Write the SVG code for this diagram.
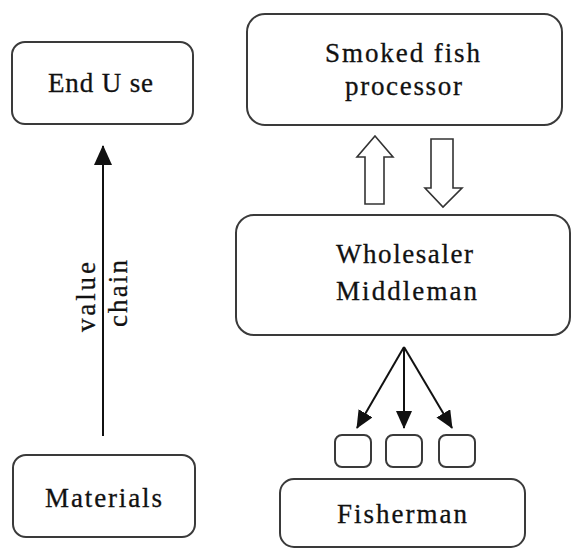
<svg xmlns="http://www.w3.org/2000/svg" width="571" height="550" viewBox="0 0 571 550">
<defs>
<style>
.box{fill:#fff;stroke:#3a3a3a;stroke-width:2}
.t{font-family:"Liberation Serif","DejaVu Serif",serif;font-size:27px;fill:#111;stroke:#111;stroke-width:0.3}
.ln{stroke:#111;stroke-width:2;fill:none}
.hollow{fill:#fff;stroke:#333;stroke-width:1.6}
</style>
<marker id="ah2" markerWidth="20" markerHeight="18" refX="19" refY="9" orient="auto" markerUnits="userSpaceOnUse" viewBox="0 0 20 18">
<path d="M0,0 L20,9 L0,18 z" fill="#111"/>
</marker>
<marker id="ah3" markerWidth="18" markerHeight="16" refX="17" refY="8" orient="auto" markerUnits="userSpaceOnUse" viewBox="0 0 18 16">
<path d="M0,0 L18,8 L0,16 z" fill="#111"/>
</marker>
</defs>
<rect width="571" height="550" fill="#fff"/>
<g id="end-use">
<rect class="box" x="12" y="42" width="181" height="82" rx="13"/>
<text class="t" x="48" y="92" textLength="105" lengthAdjust="spacing">End U se</text>
</g>
<g id="materials">
<rect class="box" x="13" y="455" width="182" height="82" rx="13"/>
<text class="t" x="45" y="507" textLength="117" lengthAdjust="spacing">Materials</text>
</g>
<g id="smoked-fish-processor">
<rect class="box" x="247" y="14" width="315" height="111" rx="18"/>
<text class="t" x="325" y="62" textLength="155" lengthAdjust="spacing">Smoked fish</text>
<text class="t" x="345" y="95" textLength="117" lengthAdjust="spacing">processor</text>
</g>
<g id="wholesaler-middleman">
<rect class="box" x="236" y="215" width="334" height="120" rx="18"/>
<text class="t" x="336" y="263" textLength="137" lengthAdjust="spacing">Wholesaler</text>
<text class="t" x="336" y="300" textLength="141" lengthAdjust="spacing">Middleman</text>
</g>
<g id="small-boxes">
<rect class="box" x="335" y="435" width="36" height="32" rx="7"/>
<rect class="box" x="386" y="435" width="36" height="32" rx="7"/>
<rect class="box" x="439" y="435" width="36" height="32" rx="7"/>
</g>
<g id="fisherman">
<rect class="box" x="280" y="479" width="245" height="68" rx="14"/>
<text class="t" x="337" y="523" textLength="130" lengthAdjust="spacing">Fisherman</text>
</g>
<g id="connectors">
<line class="ln" x1="103" y1="436" x2="103" y2="146" marker-end="url(#ah2)"/>
<text class="t" transform="translate(95,332) rotate(-90)" textLength="70" lengthAdjust="spacing">value</text>
<text class="t" transform="translate(127,327) rotate(-90)" textLength="67" lengthAdjust="spacing">chain</text>
<path class="hollow" d="M375,136 L393,157 L384,157 L384,204 L365,204 L365,157 L357,157 Z"/>
<path class="hollow" d="M431,139 L453,139 L453,188 L462,188 L443,207 L425,188 L431,188 Z"/>
<line class="ln" x1="404" y1="347" x2="357" y2="428" marker-end="url(#ah3)"/>
<line class="ln" x1="404" y1="347" x2="404" y2="428" marker-end="url(#ah3)"/>
<line class="ln" x1="404" y1="347" x2="452" y2="428" marker-end="url(#ah3)"/>
</g>
</svg>
